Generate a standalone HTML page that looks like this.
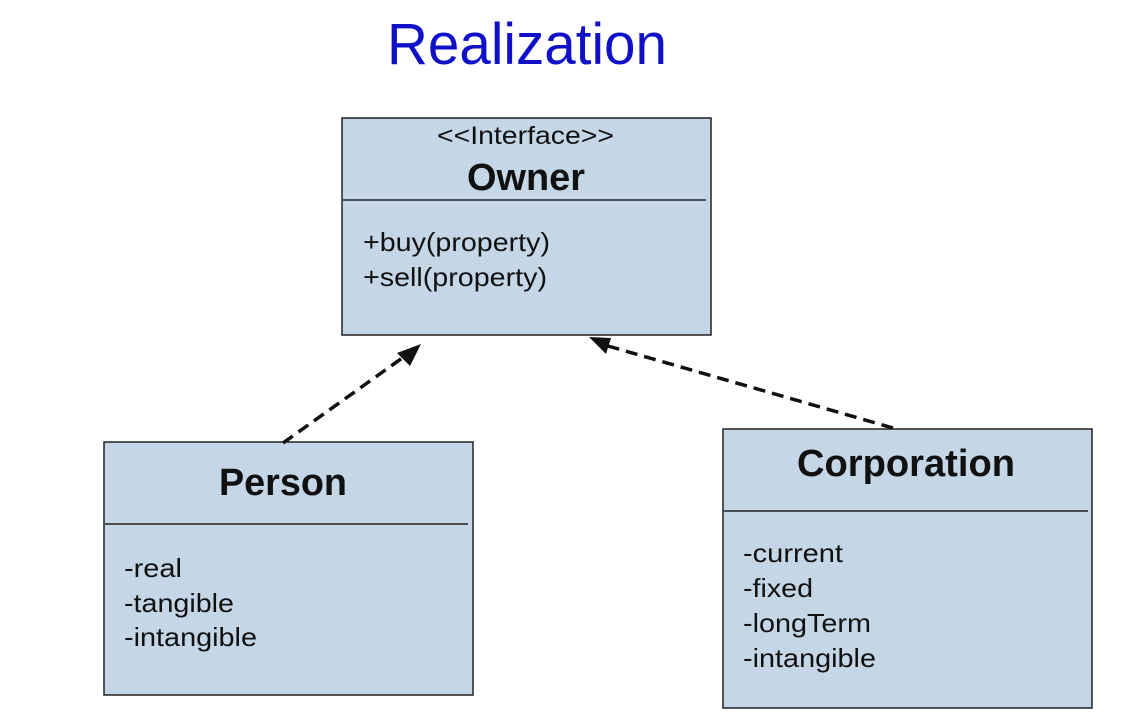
<!DOCTYPE html>
<html><head><meta charset="utf-8"><style>
html,body{margin:0;padding:0;background:#fff}
svg{display:block}
</style></head><body>
<svg width="1143" height="713" viewBox="0 0 1143 713" font-family="Liberation Sans, Arial, Helvetica, sans-serif" fill="#111">
<text x="387" y="64" font-size="58" fill="#1010c8" textLength="280" lengthAdjust="spacingAndGlyphs">Realization</text>

<rect x="342" y="118" width="369" height="217" fill="#c5d6e6" stroke="#222" stroke-width="1.5"/>
<line x1="343" y1="200" x2="706" y2="200" stroke="#222" stroke-width="1.5"/>
<text x="437" y="144" font-size="25" textLength="177" lengthAdjust="spacingAndGlyphs">&lt;&lt;Interface&gt;&gt;</text>
<text x="467" y="190" font-size="38" font-weight="bold" textLength="118" lengthAdjust="spacingAndGlyphs">Owner</text>
<text x="363" y="251" font-size="26" textLength="187" lengthAdjust="spacingAndGlyphs">+buy(property)</text>
<text x="363" y="286" font-size="26" textLength="184" lengthAdjust="spacingAndGlyphs">+sell(property)</text>

<rect x="104" y="442" width="369" height="253" fill="#c5d6e6" stroke="#222" stroke-width="1.5"/>
<line x1="105" y1="524" x2="468" y2="524" stroke="#222" stroke-width="1.5"/>
<text x="219" y="495" font-size="38" font-weight="bold" textLength="128" lengthAdjust="spacingAndGlyphs">Person</text>
<text x="124" y="577" font-size="26" textLength="58" lengthAdjust="spacingAndGlyphs">-real</text>
<text x="124" y="612" font-size="26" textLength="110" lengthAdjust="spacingAndGlyphs">-tangible</text>
<text x="124" y="646" font-size="26" textLength="133" lengthAdjust="spacingAndGlyphs">-intangible</text>

<rect x="723" y="429" width="369" height="279" fill="#c5d6e6" stroke="#222" stroke-width="1.5"/>
<line x1="724" y1="511" x2="1088" y2="511" stroke="#222" stroke-width="1.5"/>
<text x="797" y="476" font-size="38" font-weight="bold" textLength="218" lengthAdjust="spacingAndGlyphs">Corporation</text>
<text x="743" y="562" font-size="26" textLength="100" lengthAdjust="spacingAndGlyphs">-current</text>
<text x="743" y="597" font-size="26" textLength="70" lengthAdjust="spacingAndGlyphs">-fixed</text>
<text x="743" y="632" font-size="26" textLength="128" lengthAdjust="spacingAndGlyphs">-longTerm</text>
<text x="743" y="667" font-size="26" textLength="133" lengthAdjust="spacingAndGlyphs">-intangible</text>

<line x1="283" y1="443" x2="405" y2="356" stroke="#111" stroke-width="3.5" stroke-dasharray="12,7"/>
<polygon points="421,344 397,353 410,366" fill="#111"/>
<line x1="893" y1="428" x2="608" y2="346" stroke="#111" stroke-width="3.5" stroke-dasharray="12,7"/>
<polygon points="589,337 606,354 611,338" fill="#111"/>
</svg>
</body></html>
